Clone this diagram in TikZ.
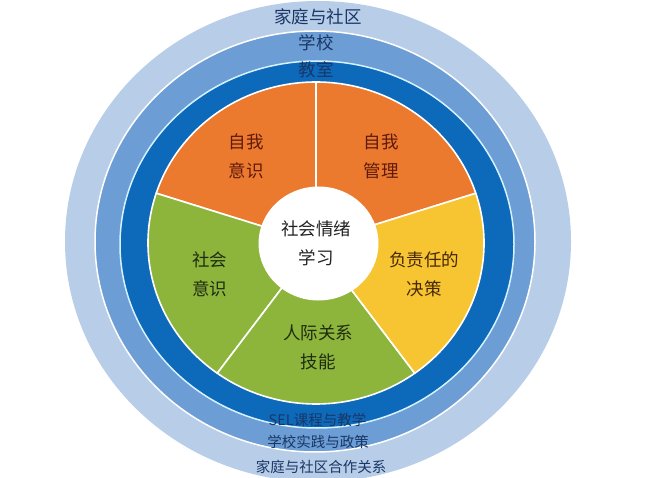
\documentclass[tikz,border=0pt]{standalone}
\usepackage{fontspec}
\newfontfamily\cjk{Noto Sans CJK SC}
\definecolor{lightring}{HTML}{B7CDE8}
\definecolor{midring}{HTML}{6C9DD4}
\definecolor{darkring}{HTML}{0D69BA}
\definecolor{ringline}{HTML}{D6F2FF}
\definecolor{secorange}{HTML}{EC7A2E}
\definecolor{secgreen}{HTML}{8DB43B}
\definecolor{secyellow}{HTML}{F7C532}
\definecolor{txtorange}{HTML}{5E1A0C}
\definecolor{txtgreen}{HTML}{1E2C10}
\definecolor{txtyellow}{HTML}{452808}
\definecolor{txtring}{HTML}{1A3766}
\definecolor{txtcenter}{HTML}{222222}
\begin{document}
\begin{tikzpicture}[x=1pt,y=1pt,
  seclbl/.style={font=\cjk\fontsize{17.5}{29}\selectfont, align=center, inner sep=0pt},
  ringlbl/.style={font=\cjk\fontsize{17.5}{20}\selectfont, text=txtring, inner sep=0pt},
  smallringlbl/.style={font=\cjk\fontsize{14.5}{17}\selectfont, text=txtring, inner sep=0pt},
  sector/.style={draw=white, line width=1.6pt, line join=round}]
\useasboundingbox (0,0) rectangle (650,477);
\fill[white] (0,0) rectangle (650,477);
\clip (0,0) rectangle (650,477);
% rings
\fill[lightring] (318,235.5) ellipse [x radius=253, y radius=240.5];
\filldraw[fill=midring, draw=white, line width=1.5pt] (315,235.5) ellipse [x radius=220, y radius=210.5];
\filldraw[fill=darkring, draw=ringline, line width=1.5pt] (317,232.5) ellipse [x radius=197, y radius=183.5];
% pie
\coordinate (O) at (316,234);
\filldraw[fill=secorange, sector] (O) -- ++(90:168 and 161) arc[start angle=90, end angle=162, x radius=168, y radius=161] -- cycle;
\filldraw[fill=secorange, sector] (O) -- ++(18:168 and 161) arc[start angle=18, end angle=90, x radius=168, y radius=161] -- cycle;
\filldraw[fill=secgreen, sector] (O) -- ++(162:168 and 161) arc[start angle=162, end angle=234, x radius=168, y radius=161] -- cycle;
\filldraw[fill=secgreen, sector] (O) -- ++(234:168 and 161) arc[start angle=234, end angle=306, x radius=168, y radius=161] -- cycle;
\filldraw[fill=secyellow, sector] (O) -- ++(306:168 and 161) arc[start angle=306, end angle=378, x radius=168, y radius=161] -- cycle;
\fill[white] (318.5,233.5) ellipse [x radius=60, y radius=57];
% ring labels
\node[ringlbl] (family) at (318,460) {家庭与社区};
\node[ringlbl] (school) at (316,434) {学校};
\node[ringlbl] (class) at (316,407) {教室};
\node[smallringlbl] (curriculum) at (317.5,57) {SEL课程与教学};
\node[smallringlbl] (policy) at (318,35) {学校实践与政策};
\node[smallringlbl] (partner) at (321,10) {家庭与社区合作关系};
% sector labels
\node[seclbl, text=txtorange] (selfaware) at (246,320.5) {自我\\意识};
\node[seclbl, text=txtorange] (selfmanage) at (381,320.5) {自我\\管理};
\node[seclbl, text=txtcenter] (selcenter) at (316,233.5) {社会情绪\\学习};
\node[seclbl, text=txtgreen] (socaware) at (209.5,203) {社会\\意识};
\node[seclbl, text=txtyellow] (decision) at (424,203) {负责任的\\决策};
\node[seclbl, text=txtgreen] (relation) at (318,130) {人际关系\\技能};
\end{tikzpicture}
\end{document}
